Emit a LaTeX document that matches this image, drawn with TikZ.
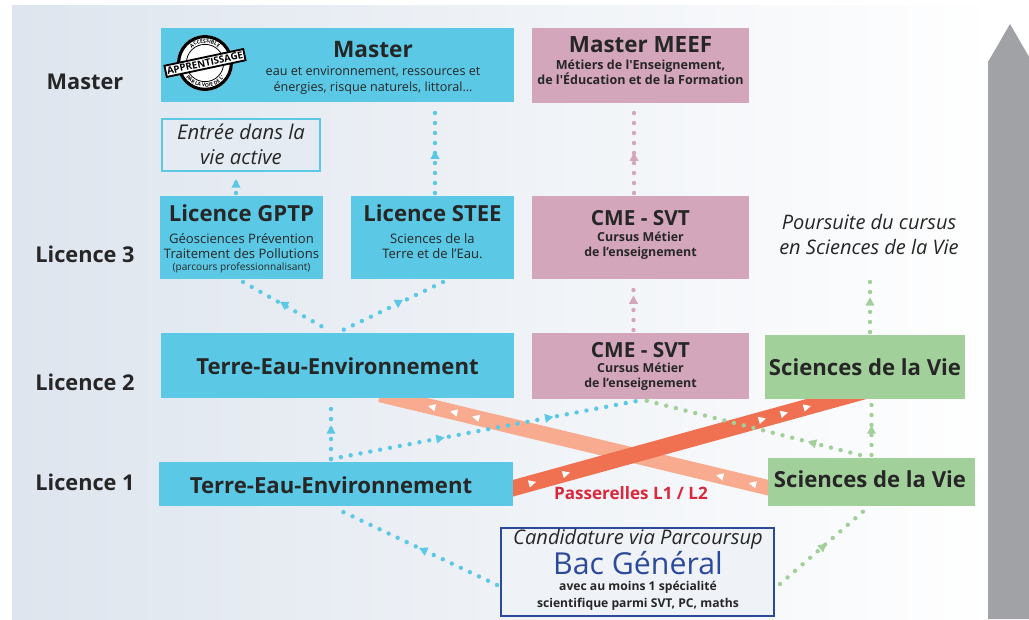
\documentclass[tikz,border=0pt]{standalone}
\usepackage{fontspec}
\setmainfont{Open Sans}[Ligatures=TeXOff]
\usetikzlibrary{calc,decorations.markings,decorations.text}
\pgfdeclarelayer{back}
\pgfsetlayers{back,main}
\definecolor{cyanB}{HTML}{5BC9E5}
\definecolor{pinkB}{HTML}{D4A6BB}
\definecolor{greenB}{HTML}{A2D09B}
\definecolor{bgL}{HTML}{DEE5EE}
\definecolor{bgM}{HTML}{E6EBF2}
\definecolor{txtC}{HTML}{262626}
\definecolor{bacB}{HTML}{2B4A9B}
\definecolor{salmonB}{HTML}{F8AB8E}
\definecolor{coralB}{HTML}{F07151}
\definecolor{redT}{HTML}{D8283B}
\definecolor{grayA}{HTML}{A1A2A6}
\definecolor{entreeF}{HTML}{E5EBF2}
\definecolor{bacF}{HTML}{EFF2F7}
\newcommand{\wtriangle}{\fill[white] (3pt,0pt) -- (-2.5pt,2.8pt) -- (-2.5pt,-2.8pt) -- cycle;}
\begin{document}
\begin{tikzpicture}[x=0.75pt,y=-0.75pt,
  cbox/.style={fill=cyanB, inner sep=0pt, outer sep=0pt},
  pbox/.style={fill=pinkB, inner sep=0pt, outer sep=0pt},
  gbox/.style={fill=greenB, inner sep=0pt, outer sep=0pt},
  txt/.style={inner sep=0pt, align=center, text=txtC},
  lvl/.style={txt, font=\fontsize{16.3}{19}\selectfont\bfseries},
  head/.style={txt, font=\fontsize{16.6}{19}\selectfont\bfseries},
  dotline/.style={line width=3.3pt, line cap=round, dash pattern=on 0pt off 7.5pt},
  tri/.style 2 args={postaction={decorate,decoration={markings,mark=at position #1 with {\pgftransformresetnontranslations\pgftransformrotate{#2}\fill (3.5pt,0pt) -- (-2.7pt,3.4pt) -- (-2.7pt,-3.4pt) -- cycle;}}}},
]
\useasboundingbox (0,0) rectangle (1029,619);
\begin{pgfonlayer}{back}
  \shade[left color=bgL, middle color=bgM, right color=white] (12,5) rectangle (1000,619);
\end{pgfonlayer}
\fill[grayA] (988,619) -- (988,62) -- (1010,24) -- (1029,56.8) -- (1029,619) -- cycle;

% level labels
\node[lvl] (lMaster) at (85,82) {Master};
\node[lvl] (lL3) at (85,254) {Licence 3};
\node[lvl] (lL2) at (85,382) {Licence 2};
\node[lvl] (lL1) at (85,482) {Licence 1};

% boxes
\node[cbox, minimum width=264.75pt, minimum height=55.5pt] (master) at (337.5,65) {};
\node[fill=entreeF, draw=cyanB, line width=1.5pt, inner sep=0pt, minimum width=118.5pt, minimum height=39pt] (entree) at (241,145) {};
\node[pbox, minimum width=162.75pt, minimum height=56.25pt] (meef) at (640.5,65.5) {};
\node[cbox, minimum width=122.25pt, minimum height=62.25pt] (gptp) at (241.5,237.5) {};
\node[cbox, minimum width=122.25pt, minimum height=62.25pt] (stee) at (432.5,237.5) {};
\node[pbox, minimum width=162.75pt, minimum height=62.25pt] (cme3) at (640.5,237.5) {};
\node[cbox, minimum width=264.75pt, minimum height=48.75pt] (tee2) at (337.5,365.5) {};
\node[pbox, minimum width=162.75pt, minimum height=49.5pt] (cme2) at (640.5,366) {};
\node[gbox, minimum width=150pt, minimum height=48pt] (sdv2) at (865,367) {};
\node[cbox, minimum width=265.5pt, minimum height=33pt] (tee1) at (336,484) {};
\node[gbox, minimum width=155.25pt, minimum height=36pt] (sdv1) at (871.5,482) {};
\node[fill=bacF, draw=bacB, line width=1.5pt, inner sep=0pt, minimum width=204.75pt, minimum height=66pt] (bac) at (637.5,572) {};
\coordinate (pend) at (870,272);

% passerelles bands
\begin{pgfonlayer}{back}
  \draw[salmonB, line width=11.5pt, postaction={decorate,decoration={markings,
      mark=at position 0.068 with {\wtriangle}, mark=at position 0.15 with {\wtriangle},
      mark=at position 0.76 with {\wtriangle}, mark=at position 0.815 with {\wtriangle},
      mark=at position 0.87 with {\wtriangle}}}]
    ($(sdv1.west)+(12,8.5)$) -- ($(tee2.south)+(42.5,-3.5)$);
  \draw[coralB, line width=12pt, postaction={decorate,decoration={markings,
      mark=at position 0.077 with {\wtriangle}, mark=at position 0.17 with {\wtriangle},
      mark=at position 0.707 with {\wtriangle}, mark=at position 0.767 with {\wtriangle},
      mark=at position 0.83 with {\wtriangle}}}]
    ($(tee1.east)+(-9,6.7)$) -- ($(sdv2.south)+(4,-9)$);
\end{pgfonlayer}

% dotted connectors
\draw[dotline, color=cyanB, tri={0.53}{90}] ($(gptp.north)+(-5.5,-3)$) -- ($(entree.south)+(-5,4)$);
\draw[dotline, color=cyanB, tri={0.43}{90}] ($(stee.north)+(2.5,-3)$) -- ($(master.south)+(97.5,3)$);
\draw[dotline, color=pinkB, tri={0.41}{90}] ($(cme3.north)+(-6.5,-3)$) -- ($(meef.south)+(-6.5,3)$);
\draw[dotline, color=pinkB, tri={0.62}{90}] ($(cme2.north)+(-7,-3)$) -- ($(cme3.south)+(-7,3)$);
\draw[dotline, color=cyanB, tri={0.48}{-90}] ($(gptp.south)+(1.5,3)$) -- ($(tee2.north)+(-7.5,-2)$);
\draw[dotline, color=cyanB, tri={0.44}{-90}] ($(stee.south)+(10.5,3)$) -- ($(tee2.north)+(3.5,-2)$);
\draw[dotline, color=cyanB, tri={0.5}{90}] ($(tee1.north)+(-5,-3)$) -- ($(tee2.south)+(-6.5,3)$);
\draw[dotline, color=cyanB, tri={0.35}{10.7}, tri={0.70}{10.7}] ($(tee1.north)+(-5,-3)$) -- ($(cme2.south)+(1.5,1)$);
\draw[dotline, color=greenB, tri={0.22}{165.7}] ($(sdv1.north)+(-11.5,-3)$) -- ($(cme2.south)+(3.5,1)$);
\draw[dotline, color=greenB, tri={0.47}{90}] ($(sdv1.north)+(0,-3)$) -- ($(sdv2.south)+(6.5,3)$);
\draw[dotline, color=greenB, tri={0.5}{90}] ($(sdv2.north)+(5,-3)$) -- (pend);
\draw[dotline, color=cyanB, tri={0.46}{154.7}] ($(bac.west)+(-3,13)$) -- ($(tee1.south)+(1,3)$);
\draw[dotline, color=greenB, tri={0.5}{40.8}] ($(bac.east)+(5,12)$) -- ($(sdv1.south)+(-5.5,3)$);

% badge
\begin{scope}[shift={(205,63)}]
  \fill[white] (0,0) circle[radius=21pt];
  \draw[black, line width=2.4pt] (0,0) circle[radius=19.8pt];
  \draw[black, line width=0.6pt] (0,0) circle[radius=14pt];
  \path[decorate, decoration={text along path, text align=center,
      text={|\fontsize{3.8}{4}\selectfont\bfseries|ACCESSIBLE}}]
    (150:15pt) arc[start angle=150, end angle=30, radius=15pt];
  \path[decorate, decoration={text along path, text align=center,
      text={|\fontsize{3.8}{4}\selectfont\bfseries|PAR LA VOIE DE L'}}]
    (212:18pt) arc[start angle=212, end angle=328, radius=18pt];
  \node[rotate=12, draw=black, line width=1.4pt, fill=white, inner xsep=1.2pt, inner ysep=1.6pt,
        font=\fontsize{7.3}{7.3}\selectfont\bfseries, text=black] (stamp) at (0,0) {APPRENTISSAGE};
\end{scope}

% texts
\node[txt, font=\fontsize{17}{20}\selectfont\bfseries] (tMaster) at (373,50) {Master};
\node[txt, font=\fontsize{9.45}{12}\selectfont] (tMasterS) at (373,80.5) {eau et environnement, ressources et\\énergies, risque naturels, littoral…};
\node[txt, font=\fontsize{15.2}{18.75}\selectfont\itshape] (tEntree) at (241,144.5) {Entrée dans la\\vie active};
\node[txt, font=\fontsize{16.8}{19}\selectfont\bfseries] (tMeef) at (640.5,45) {Master MEEF};
\node[txt, font=\fontsize{9.4}{11.25}\selectfont\bfseries] (tMeefS) at (640.5,72.5) {Métiers de l'Enseignement,\\de l'Éducation et de la Formation};
\node[head] (tGptp) at (241.5,213) {Licence GPTP};
\node[txt, font=\fontsize{9.8}{11.25}\selectfont] (tGptpS) at (241.5,246.5) {Géosciences Prévention\\Traitement des Pollutions};
\node[txt, font=\fontsize{7.6}{8}\selectfont] (tGptpP) at (241.5,268) {(parcours professionnalisant)};
\node[head] (tStee) at (432.5,213) {Licence STEE};
\node[txt, font=\fontsize{9.8}{11.25}\selectfont] (tSteeS) at (432.5,246.5) {Sciences de la\\Terre et de l’Eau.};
\node[txt, font=\fontsize{15.6}{18}\selectfont\bfseries] (tCme3) at (640.5,218) {CME - SVT};
\node[txt, font=\fontsize{9.3}{11.25}\selectfont\bfseries] (tCme3S) at (640.5,245.5) {Cursus Métier\\de l’enseignement};
\node[txt, font=\fontsize{15}{18.75}\selectfont\itshape] (tPours) at (869,234.5) {Poursuite du cursus\\en Sciences de la Vie};
\node[head] (tTee2) at (337.5,366) {Terre-Eau-Environnement};
\node[txt, font=\fontsize{15.6}{18}\selectfont\bfseries] (tCme2) at (640.5,350) {CME - SVT};
\node[txt, font=\fontsize{9.3}{11.25}\selectfont\bfseries] (tCme2S) at (640.5,376.5) {Cursus Métier\\de l’enseignement};
\node[head] (tSdv2) at (865,367) {Sciences de la Vie};
\node[head] (tTee1) at (331,485) {Terre-Eau-Environnement};
\node[head] (tSdv1) at (870,479) {Sciences de la Vie};
\node[txt, text=redT, font=\fontsize{12.8}{15}\selectfont\bfseries] (tPass) at (631,493) {Passerelles L1 / L2};
\node[txt, font=\fontsize{15.1}{18}\selectfont\itshape] (tCand) at (638,539.5) {Candidature via Parcoursup};
\node[txt, text=bacB, font=\fontsize{22.7}{26}\selectfont] (tBac) at (638,563) {Bac Général};
\node[txt, font=\fontsize{9.1}{12.75}\selectfont\bfseries] (tBacS) at (638,596) {avec au moins 1 spécialité\\scientifique parmi SVT, PC, maths};
\end{tikzpicture}
\end{document}
